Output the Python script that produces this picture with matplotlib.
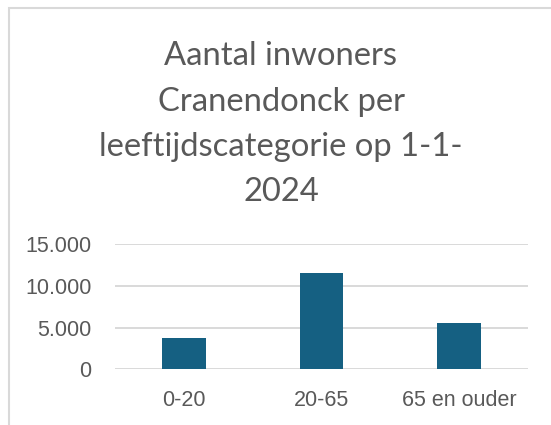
import matplotlib
matplotlib.use("Agg")
import matplotlib.pyplot as plt
from matplotlib.patches import Rectangle

categories = ["0-20", "20-65", "65 en ouder"]
values = [3750, 11500, 5500]
yticks = [0, 5000, 10000, 15000]
ytick_labels = ["0", "5.000", "10.000", "15.000"]
title_lines = ["Aantal inwoners", "Cranendonck per", "leeftijdscategorie op 1-1-", "2024"]

W, H = 551, 425
fig = plt.figure(figsize=(W / 100, H / 100), dpi=100)
fig.patch.set_facecolor("white")

# chart border
fig.patches.append(Rectangle((8.5 / W, -0.1), 1.2, (H - 8.5) / H + 0.1,
                             transform=fig.transFigure, fill=False,
                             edgecolor="#d9d9d9", linewidth=1.5))

ax = fig.add_axes([115 / W, (H - 369.3) / H, (528 - 115) / W, (369.3 - 244) / H])
x = range(len(categories))
ax.bar(x, values, width=0.316, color="#156082", zorder=3)
ax.set_xlim(-0.5, len(categories) - 0.5)
ax.set_ylim(0, 15000)
ax.set_yticks(yticks)
ax.set_yticklabels(ytick_labels)
ax.set_xticks(list(x))
ax.set_xticklabels(categories)
for s in ax.spines.values():
    s.set_visible(False)
ax.grid(axis="y", color="#d9d9d9", linewidth=1.4, zorder=0)
ax.tick_params(axis="both", length=0, labelsize=15.5, colors="#595959")
ax.tick_params(axis="y", pad=17)
ax.tick_params(axis="x", pad=15)
for lbl in ax.get_xticklabels() + ax.get_yticklabels():
    lbl.set_fontfamily("Liberation Sans")

baselines = [65, 111, 156.5, 201]
for line, yb in zip(title_lines, baselines):
    fig.text(281 / W, 1 - yb / H, line, ha="center", va="baseline", fontsize=23.6,
             family="Lato", color="#595959")

fig.savefig("out.png", dpi=100)
